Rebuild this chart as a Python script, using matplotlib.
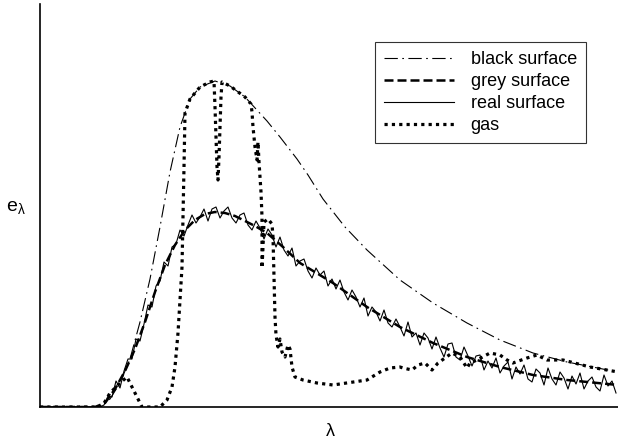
import numpy as np
import matplotlib.pyplot as plt

plt.rcParams['font.family'] = ['Liberation Sans', 'DejaVu Sans']

# wavelength axis (arbitrary units) and emissive power
black_x = [40, 100, 110, 120, 130, 140, 150, 160, 170, 180, 190, 200, 215, 230, 245,
           267, 280, 297, 308, 323, 345, 367, 400, 433, 467, 500, 533, 567, 618]
black_y = [0, 0, 8, 24, 48, 85, 128, 180, 235, 280, 308, 320, 326, 321, 310,
           286, 270, 248, 232, 208, 180, 157, 127, 104, 84, 67, 54, 45, 35]

grey_x = [40, 95, 105, 115, 125, 135, 145, 155, 165, 175, 185, 195, 205, 215, 225, 235,
          245, 255, 267, 283, 300, 333, 367, 400, 433, 467, 500, 533, 567, 618]
grey_y = [0, 0, 4, 18, 36, 58, 85, 115, 142, 162, 177, 187, 193, 195, 194, 191,
          186, 181, 174, 160, 144, 124, 100, 80, 64, 50, 40, 32, 27, 22]

real_x = [40] + list(range(100, 620, 4))
real_y = [0,
          0, 2, 11, 10, 26, 19, 36, 48, 48, 68, 66, 83, 102, 100, 121, 126, 145, 141, 160, 163,
          177, 171, 182, 192, 184, 190, 198, 186, 198, 200, 189, 196, 200, 189, 184, 192, 194,
          182, 177, 186, 179, 168, 178, 172, 160, 170, 157, 151, 159, 141, 146, 148, 136, 129,
          139, 132, 136, 121, 128, 118, 127, 115, 107, 117, 110, 100, 109, 91, 100, 95, 86, 97,
          84, 80, 88, 80, 71, 85, 70, 74, 62, 74, 69, 58, 70, 59, 50, 63, 64, 50, 47, 60, 51,
          41, 51, 52, 37, 46, 39, 49, 34, 41, 45, 28, 40, 33, 42, 28, 25, 38, 34, 22, 39, 28,
          22, 35, 29, 18, 31, 23, 34, 18, 26, 30, 20, 16, 32, 21, 26, 14]

gas_x = [40, 100, 103, 110, 120, 127, 132, 137, 142, 160, 167, 172, 175, 178, 180, 182,
         183, 184, 185, 190, 200, 210, 214, 215, 216, 217, 218, 219, 220, 221, 222, 230,
         245, 251, 252, 253, 255, 257, 258, 259, 260, 261, 262, 262, 262, 263, 264, 268,
         272, 273, 274, 275, 276, 278, 280, 282, 285, 288, 290, 292, 295, 303, 317, 333,
         367, 380, 390, 400, 403, 412, 418, 425, 432, 438, 445, 452, 460, 467, 470, 477,
         490, 500, 507, 513, 527, 537, 547, 557, 563, 590, 618]
gas_y = [0, 0, 2, 14, 24, 30, 20, 10, 0, 0, 7, 20, 40, 74, 107, 140,
         190, 240, 294, 308, 320, 325, 326, 300, 270, 240, 227, 250, 280, 310, 325, 321,
         310, 303, 295, 280, 260, 247, 265, 245, 230, 215, 190, 160, 139, 160, 185, 188,
         183, 170, 130, 90, 72, 60, 68, 55, 50, 62, 58, 40, 30, 27, 24, 22,
         27, 35, 39, 40, 39, 37, 42, 44, 37, 44, 49, 54, 50, 39, 44, 47,
         54, 52, 47, 44, 49, 52, 47, 47, 47, 40, 35]

fig = plt.figure(figsize=(6.18, 4.46), dpi=100)
ax = fig.add_axes([40 / 618, 39 / 446, 578 / 618, 403 / 446])

ax.plot(black_x, black_y, color='black', lw=0.8, linestyle=(0, (12, 4, 1.5, 4)),
        label='black surface')
ax.plot(grey_x, grey_y, color='black', lw=1.8, linestyle=(0, (3.6, 1.6)),
        label='grey surface')
ax.plot(real_x, real_y, color='black', lw=0.8, label='real surface')
ax.plot(gas_x, gas_y, color='black', lw=2.3, linestyle=(0, (1, 1.3)), label='gas')

ax.set_xlim(40, 618)
ax.set_ylim(0, 403)
ax.set_xticks([])
ax.set_yticks([])
ax.spines['top'].set_visible(False)
ax.spines['right'].set_visible(False)
ax.spines['left'].set_linewidth(1.2)
ax.spines['bottom'].set_linewidth(1.2)

fig.text(16 / 618, 1 - 208 / 446, r'$\mathregular{e_\lambda}$', fontsize=14,
         ha='center', va='center')
fig.text(330 / 618, 1 - 432 / 446, 'λ', fontsize=13, ha='center', va='center')

leg = ax.legend(loc='upper left', bbox_to_anchor=((375 - 40) / 578, (407 - 42) / 403),
                fontsize=13, handlelength=3.9, labelspacing=0.28, borderpad=0.5,
                handletextpad=0.9, frameon=True, fancybox=False, borderaxespad=0)
leg.get_frame().set_edgecolor('black')
leg.get_frame().set_linewidth(0.8)
leg._legend_box.align = 'left'

fig.savefig('out.png', dpi=100)
plt.close(fig)
